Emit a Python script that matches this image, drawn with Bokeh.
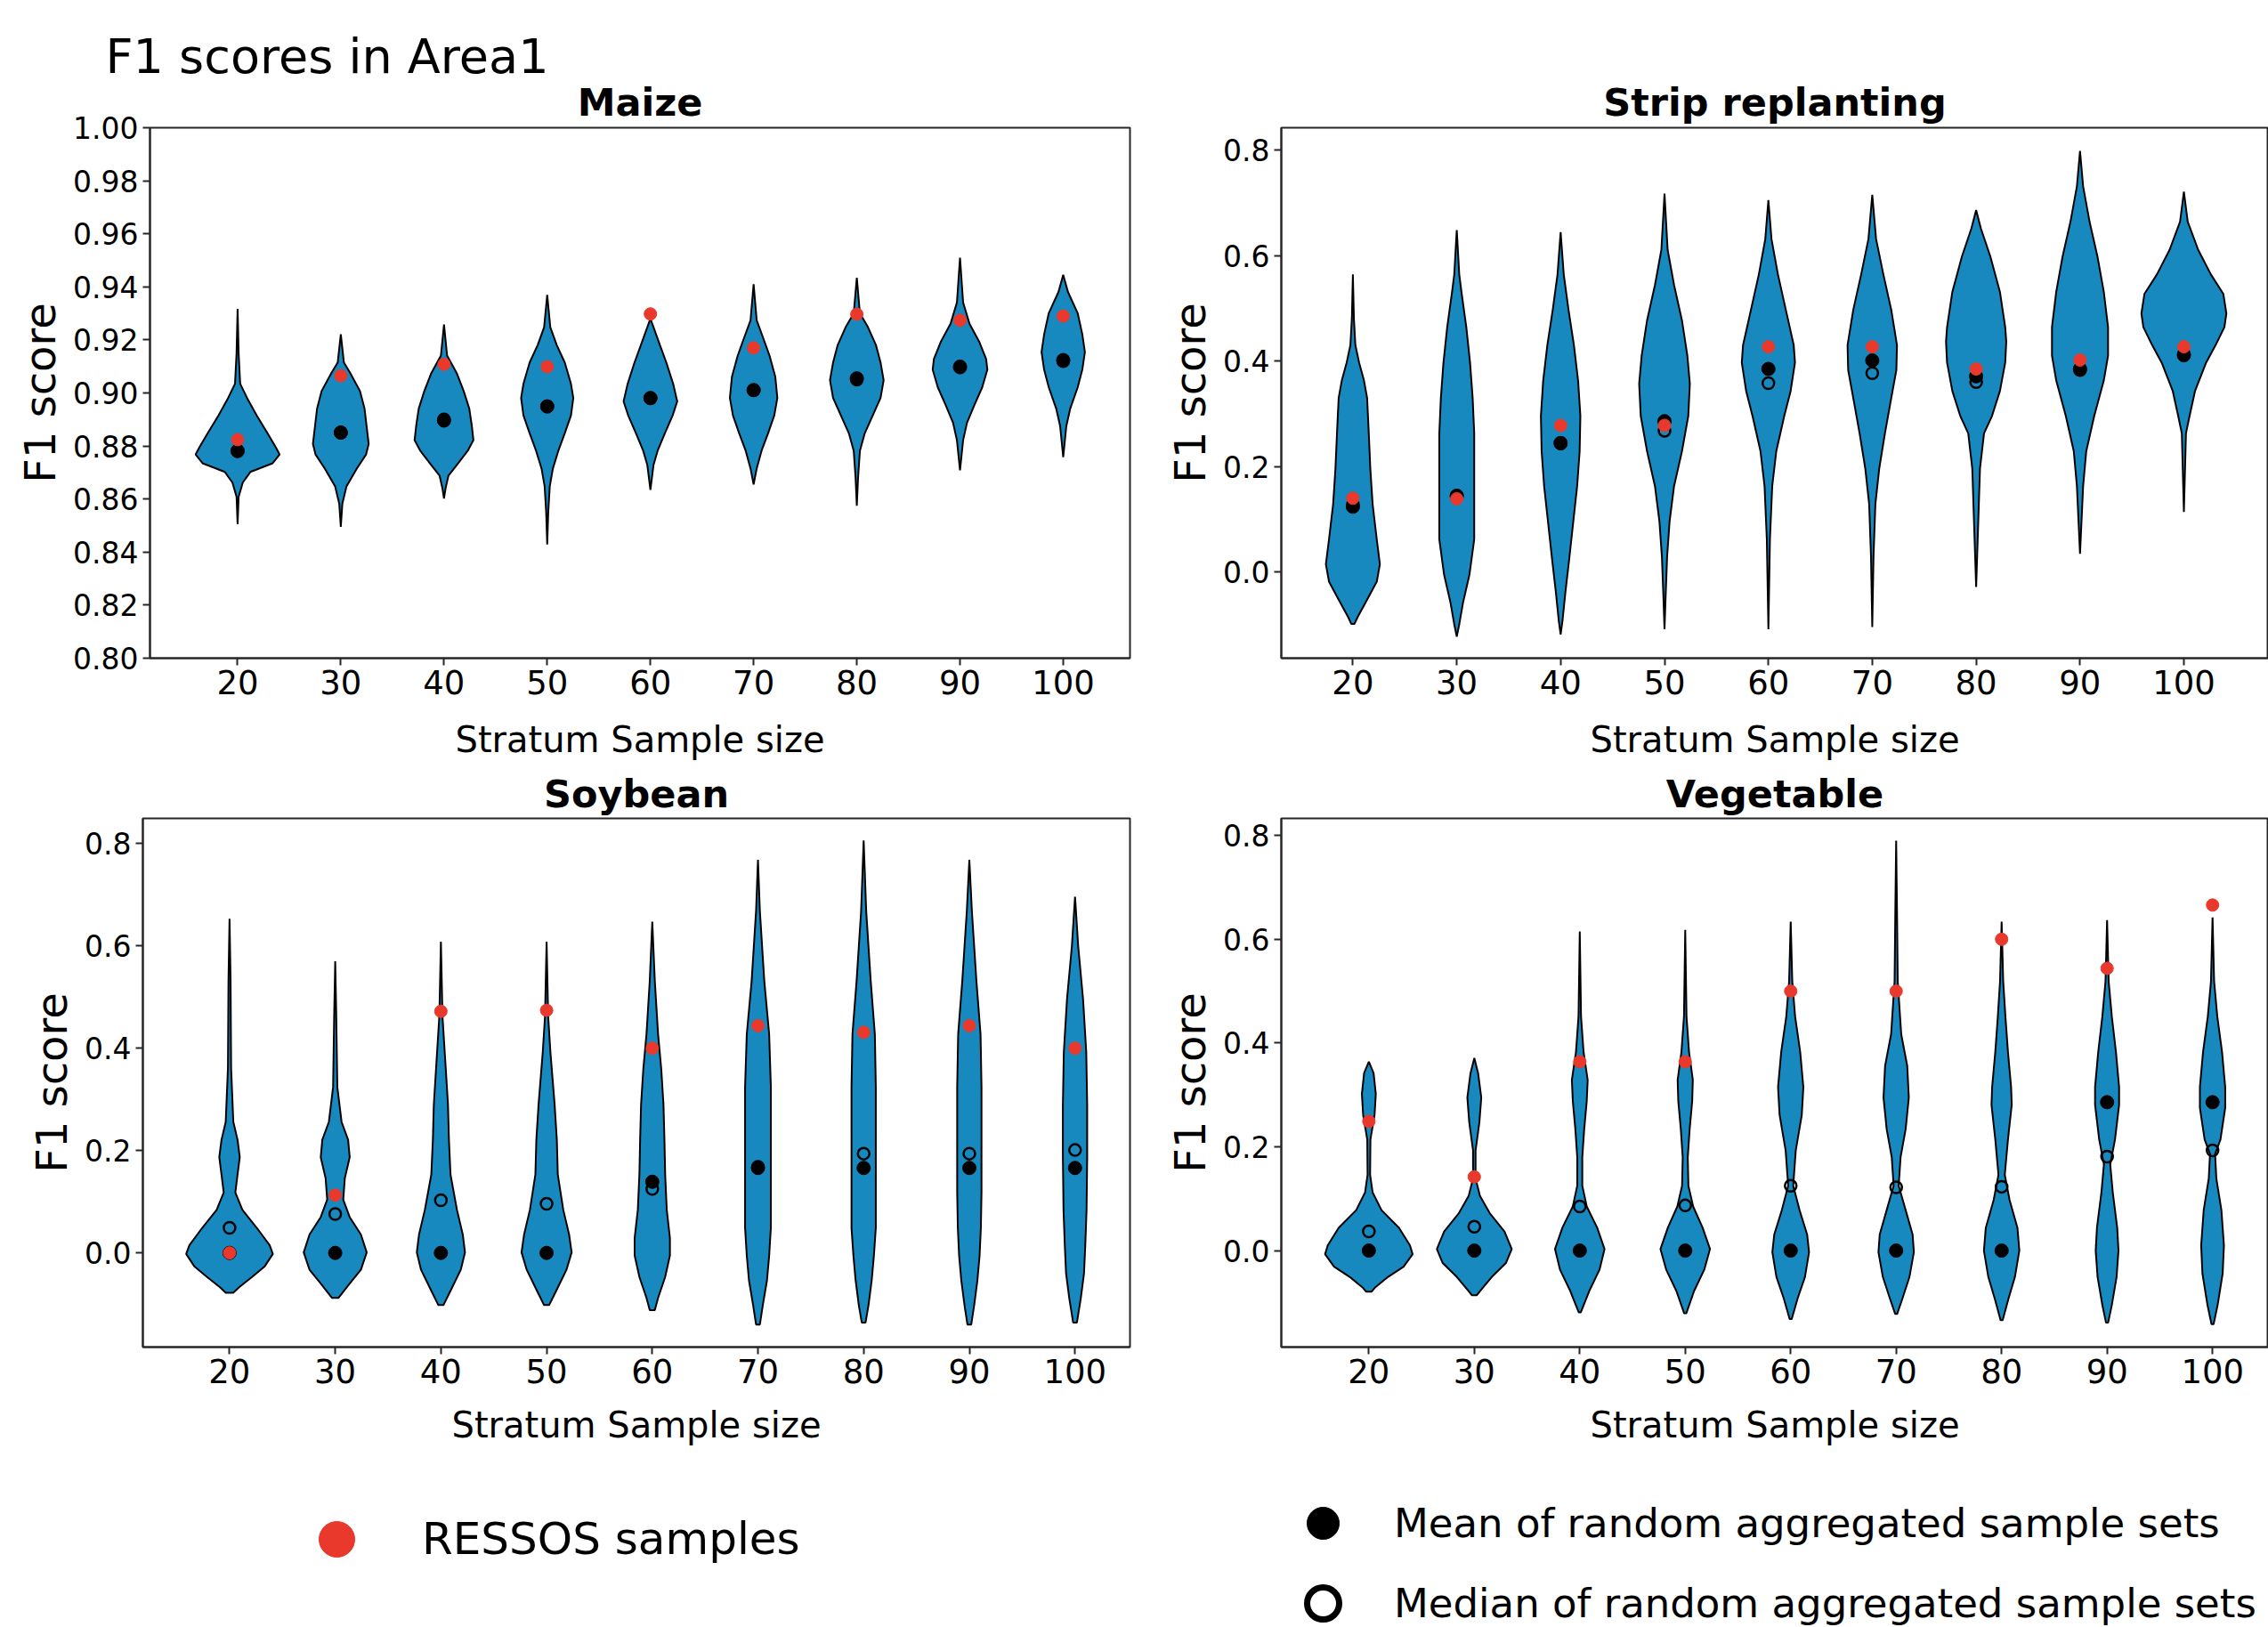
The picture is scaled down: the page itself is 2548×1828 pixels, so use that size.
from bokeh.plotting import figure
from bokeh.models import (Range1d, FixedTicker, NumeralTickFormatter, Title,
                          Legend, LegendItem)
from bokeh.layouts import row, column
from bokeh.embed import file_html
from bokeh.resources import INLINE

# ---------------- data ----------------
SIZES = [20, 30, 40, 50, 60, 70, 80, 90, 100]
X_TICKS = [20, 30, 40, 50, 60, 70, 80, 90, 100]
MAIZE_Y_TICKS = [0.80, 0.82, 0.84, 0.86, 0.88, 0.90, 0.92, 0.94, 0.96, 0.98, 1.00]
OTHER_Y_TICKS = [0.0, 0.2, 0.4, 0.6, 0.8]

MAIZE_MEAN = [0.8782, 0.8851, 0.8896, 0.8949, 0.8981, 0.9011, 0.9055, 0.9097, 0.9124]
MAIZE_MEDIAN = [0.878, 0.885, 0.890, 0.895, 0.898, 0.901, 0.905, 0.910, 0.912]
MAIZE_RESSOS = [0.8824, 0.9065, 0.9108, 0.9099, 0.9298, 0.9170, 0.9297, 0.9274, 0.9290]
MAIZE_VIOLIN_Y = [
    [0.8505, 0.8608, 0.8662, 0.8702, 0.8735, 0.8768, 0.8795, 0.8848, 0.8915, 0.8981, 0.9035, 0.9150, 0.9317],
    [0.8495, 0.8582, 0.8648, 0.8715, 0.8768, 0.8808, 0.8875, 0.8941, 0.9008, 0.9075, 0.9115, 0.9221],
    [0.8602, 0.8640, 0.8688, 0.8728, 0.8782, 0.8822, 0.8875, 0.8941, 0.9008, 0.9075, 0.9141, 0.9258],
    [0.8429, 0.8550, 0.8648, 0.8715, 0.8782, 0.8848, 0.8915, 0.8981, 0.9035, 0.9115, 0.9181, 0.9248, 0.9370],
    [0.8635, 0.8728, 0.8782, 0.8848, 0.8915, 0.8968, 0.9035, 0.9115, 0.9181, 0.9248, 0.9280],
    [0.8655, 0.8715, 0.8782, 0.8848, 0.8915, 0.8981, 0.9061, 0.9141, 0.9208, 0.9274, 0.9410],
    [0.8575, 0.8680, 0.8782, 0.8848, 0.8915, 0.8981, 0.9048, 0.9115, 0.9181, 0.9248, 0.9300, 0.9434],
    [0.8708, 0.8822, 0.8888, 0.8955, 0.9021, 0.9088, 0.9128, 0.9194, 0.9261, 0.9341, 0.9510],
    [0.8758, 0.8875, 0.8941, 0.9021, 0.9088, 0.9154, 0.9221, 0.9301, 0.9381, 0.9445],
]
MAIZE_VIOLIN_HW = [
    [0, 0.10, 0.50, 1.23, 3.40, 4.07, 3.70, 2.90, 1.85, 0.92, 0.25, 0.10, 0],
    [0, 0.15, 0.55, 1.55, 2.45, 2.70, 2.50, 2.30, 1.85, 0.92, 0.30, 0],
    [0, 0.15, 0.43, 1.23, 2.30, 2.85, 2.70, 2.45, 1.90, 1.23, 0.30, 0],
    [0, 0.10, 0.25, 0.55, 1.08, 1.70, 2.30, 2.53, 2.30, 1.70, 0.92, 0.30, 0],
    [0, 0.30, 0.70, 1.40, 2.15, 2.60, 2.20, 1.54, 0.92, 0.30, 0],
    [0, 0.30, 0.77, 1.40, 2.00, 2.30, 2.10, 1.54, 0.92, 0.30, 0],
    [0, 0.12, 0.30, 0.77, 1.54, 2.30, 2.60, 2.30, 1.85, 1.08, 0.30, 0],
    [0, 0.30, 0.68, 1.40, 2.15, 2.65, 2.53, 1.85, 0.92, 0.30, 0],
    [0, 0.30, 0.68, 1.40, 1.85, 2.10, 1.85, 1.40, 0.46, 0],
]

STRIP_MEAN = [0.124, 0.144, 0.244, 0.286, 0.385, 0.401, 0.371, 0.385, 0.411]
STRIP_MEDIAN = [0.128, 0.145, 0.245, 0.268, 0.358, 0.377, 0.360, 0.383, 0.413]
STRIP_RESSOS = [0.140, 0.139, 0.278, 0.278, 0.427, 0.427, 0.385, 0.402, 0.427]
STRIP_VIOLIN_Y = [
    [-0.098, -0.085, -0.052, -0.018, 0.015, 0.062, 0.129, 0.196, 0.263, 0.330, 0.363, 0.397, 0.430, 0.480, 0.564],
    [-0.122, -0.098, -0.058, -0.005, 0.062, 0.129, 0.196, 0.263, 0.330, 0.397, 0.464, 0.530, 0.564, 0.648],
    [-0.118, -0.092, -0.038, 0.029, 0.096, 0.163, 0.229, 0.296, 0.363, 0.430, 0.497, 0.564, 0.644],
    [-0.108, -0.050, 0.029, 0.096, 0.163, 0.229, 0.296, 0.357, 0.410, 0.477, 0.544, 0.611, 0.717],
    [-0.108, 0.062, 0.163, 0.229, 0.296, 0.343, 0.397, 0.430, 0.497, 0.564, 0.631, 0.705],
    [-0.104, 0.029, 0.129, 0.196, 0.263, 0.330, 0.383, 0.430, 0.497, 0.564, 0.631, 0.715],
    [-0.028, 0.062, 0.196, 0.263, 0.296, 0.343, 0.397, 0.437, 0.464, 0.531, 0.598, 0.651, 0.686],
    [0.035, 0.163, 0.229, 0.296, 0.363, 0.410, 0.464, 0.531, 0.598, 0.664, 0.731, 0.798],
    [0.114, 0.263, 0.296, 0.343, 0.397, 0.430, 0.464, 0.490, 0.527, 0.564, 0.611, 0.664, 0.721],
]
STRIP_VIOLIN_HW = [
    [0.15, 0.46, 1.37, 2.30, 2.60, 2.30, 1.90, 1.68, 1.53, 1.37, 1.07, 0.60, 0.24, 0.10, 0],
    [0, 0.25, 0.60, 1.22, 1.68, 1.68, 1.68, 1.68, 1.53, 1.28, 0.92, 0.46, 0.24, 0],
    [0, 0.18, 0.46, 0.85, 1.22, 1.59, 1.83, 1.90, 1.68, 1.28, 0.76, 0.30, 0],
    [0, 0.10, 0.25, 0.49, 0.92, 1.68, 2.29, 2.44, 2.20, 1.68, 0.92, 0.30, 0],
    [0, 0.15, 0.37, 0.76, 1.53, 2.14, 2.56, 2.44, 1.68, 0.92, 0.30, 0],
    [0, 0.12, 0.30, 0.67, 1.22, 1.83, 2.32, 2.38, 1.83, 1.07, 0.37, 0],
    [0, 0.15, 0.37, 0.76, 1.53, 2.29, 2.80, 2.90, 2.80, 2.29, 1.37, 0.46, 0],
    [0, 0.30, 0.60, 1.37, 2.29, 2.70, 2.70, 2.29, 1.68, 0.92, 0.30, 0],
    [0, 0.20, 0.55, 1.07, 2.14, 3.05, 3.90, 4.09, 3.80, 2.60, 1.37, 0.37, 0],
]

SOY_MEAN = [0.0, 0.0, 0.0, 0.0, 0.139, 0.166, 0.166, 0.166, 0.166]
SOY_MEDIAN = [0.049, 0.076, 0.103, 0.096, 0.125, 0.168, 0.194, 0.194, 0.201]
SOY_RESSOS = [0.0, 0.113, 0.472, 0.474, 0.400, 0.444, 0.431, 0.444, 0.400]
SOY_VIOLIN_Y = [
    [-0.078, -0.067, -0.047, -0.026, -0.002, 0.015, 0.049, 0.084, 0.118, 0.153, 0.187, 0.221, 0.256, 0.361, 0.531, 0.653],
    [-0.088, -0.060, -0.033, 0.001, 0.036, 0.070, 0.104, 0.146, 0.187, 0.221, 0.256, 0.324, 0.462, 0.570],
    [-0.102, -0.074, -0.033, 0.001, 0.036, 0.084, 0.153, 0.221, 0.290, 0.393, 0.462, 0.608],
    [-0.102, -0.074, -0.033, 0.001, 0.036, 0.084, 0.153, 0.221, 0.290, 0.393, 0.462, 0.608],
    [-0.112, -0.088, -0.047, -0.005, 0.029, 0.084, 0.153, 0.221, 0.290, 0.359, 0.427, 0.531, 0.647],
    [-0.140, -0.102, -0.054, -0.005, 0.049, 0.118, 0.221, 0.324, 0.427, 0.531, 0.668, 0.768],
    [-0.136, -0.102, -0.054, -0.005, 0.049, 0.118, 0.221, 0.324, 0.427, 0.531, 0.668, 0.806],
    [-0.140, -0.102, -0.054, -0.005, 0.049, 0.118, 0.221, 0.324, 0.427, 0.531, 0.668, 0.768],
    [-0.136, -0.088, -0.040, 0.015, 0.084, 0.187, 0.290, 0.393, 0.496, 0.599, 0.696],
]
SOY_VIOLIN_HW = [
    [0.35, 0.91, 2.13, 3.34, 4.10, 3.80, 2.58, 1.22, 0.55, 0.76, 0.97, 0.76, 0.36, 0.15, 0.10, 0],
    [0.30, 1.37, 2.43, 2.98, 2.43, 1.37, 0.76, 0.91, 1.37, 1.22, 0.60, 0.20, 0.10, 0],
    [0.24, 0.91, 1.88, 2.28, 2.07, 1.52, 0.91, 0.76, 0.67, 0.36, 0.15, 0],
    [0.24, 0.91, 1.88, 2.37, 2.13, 1.58, 1.06, 0.97, 0.76, 0.36, 0.15, 0],
    [0.24, 0.55, 1.22, 1.67, 1.67, 1.37, 1.22, 1.15, 1.06, 0.85, 0.55, 0.24, 0],
    [0.18, 0.46, 0.85, 1.06, 1.22, 1.22, 1.22, 1.22, 1.06, 0.60, 0.18, 0],
    [0.18, 0.46, 0.76, 0.97, 1.15, 1.15, 1.15, 1.15, 1.06, 0.67, 0.24, 0],
    [0.18, 0.46, 0.76, 0.97, 1.09, 1.15, 1.15, 1.15, 1.06, 0.67, 0.24, 0],
    [0.18, 0.55, 0.85, 0.97, 1.09, 1.15, 1.15, 1.06, 0.76, 0.30, 0],
]

VEG_MEAN = [0.0, 0.0, 0.0, 0.0, 0.0, 0.0, 0.0, 0.286, 0.286]
VEG_MEDIAN = [0.037, 0.046, 0.085, 0.087, 0.125, 0.122, 0.123, 0.181, 0.193]
VEG_RESSOS = [0.249, 0.142, 0.364, 0.364, 0.500, 0.500, 0.600, 0.544, 0.666]
VEG_VIOLIN_Y = [
    [-0.079, -0.071, -0.051, -0.031, -0.007, 0.010, 0.044, 0.078, 0.112, 0.146, 0.214, 0.261, 0.302, 0.342, 0.364],
    [-0.086, -0.078, -0.051, -0.024, 0.003, 0.037, 0.071, 0.105, 0.139, 0.193, 0.247, 0.295, 0.342, 0.371],
    [-0.119, -0.078, -0.037, 0.003, 0.044, 0.085, 0.125, 0.180, 0.234, 0.288, 0.329, 0.383, 0.451, 0.615],
    [-0.121, -0.078, -0.037, 0.003, 0.044, 0.085, 0.125, 0.180, 0.234, 0.288, 0.329, 0.383, 0.451, 0.618],
    [-0.132, -0.092, -0.051, -0.003, 0.031, 0.078, 0.125, 0.193, 0.261, 0.315, 0.383, 0.451, 0.519, 0.634],
    [-0.122, -0.092, -0.051, -0.003, 0.031, 0.078, 0.125, 0.180, 0.234, 0.295, 0.356, 0.417, 0.519, 0.654, 0.790],
    [-0.134, -0.092, -0.051, 0.000, 0.044, 0.098, 0.146, 0.214, 0.281, 0.315, 0.383, 0.451, 0.519, 0.634],
    [-0.139, -0.105, -0.051, 0.000, 0.044, 0.112, 0.166, 0.214, 0.281, 0.315, 0.383, 0.451, 0.519, 0.637],
    [-0.142, -0.105, -0.044, 0.010, 0.078, 0.139, 0.186, 0.214, 0.275, 0.315, 0.383, 0.451, 0.519, 0.642],
]
VEG_VIOLIN_HW = [
    [0.27, 0.60, 1.80, 3.30, 4.15, 3.90, 2.86, 1.20, 0.36, 0.12, 0.15, 0.54, 0.66, 0.45, 0],
    [0.24, 0.54, 1.65, 3.00, 3.55, 2.86, 1.50, 0.54, 0.12, 0.12, 0.48, 0.66, 0.36, 0],
    [0.10, 0.90, 1.87, 2.35, 1.65, 0.66, 0.24, 0.24, 0.42, 0.66, 0.75, 0.36, 0.12, 0],
    [0.10, 0.84, 1.80, 2.35, 1.65, 0.75, 0.30, 0.24, 0.42, 0.66, 0.72, 0.36, 0.12, 0],
    [0.10, 0.66, 1.35, 1.74, 1.56, 0.84, 0.24, 0.48, 1.05, 1.20, 0.90, 0.42, 0.15, 0],
    [0.10, 0.60, 1.26, 1.68, 1.56, 0.90, 0.24, 0.42, 0.90, 1.20, 1.05, 0.48, 0.15, 0.08, 0],
    [0.10, 0.66, 1.26, 1.68, 1.50, 0.75, 0.30, 0.60, 0.96, 0.90, 0.60, 0.36, 0.15, 0],
    [0.10, 0.45, 0.90, 1.08, 0.96, 0.54, 0.30, 0.75, 1.14, 1.14, 0.84, 0.45, 0.15, 0],
    [0.10, 0.48, 0.96, 1.08, 0.84, 0.36, 0.24, 0.75, 1.20, 1.20, 0.90, 0.45, 0.15, 0],
]

LEGEND_LABELS = ["RESSOS samples",
                 "Mean of random aggregated sample sets",
                 "Median of random aggregated sample sets"]

# ---------------- style ----------------
FONT = "DejaVu Sans"
BLUE = "#1789bf"
RED = "#e8392c"
FRAME = "#262626"


def violin_polys(centers, ys, hws):
    xs_all, ys_all = [], []
    for c, yy, hw in zip(centers, ys, hws):
        xs_all.append([c + h for h in hw] + [c - h for h in reversed(hw)])
        ys_all.append(list(yy) + list(reversed(yy)))
    return xs_all, ys_all


def panel(title, vy, vhw, mean, median, ressos, xr, yr, yticks, yfmt,
          w, h, mbl, mbr, mbt, mbb, xlabel_standoff, title_standoff):
    p = figure(width=w, height=h, x_range=Range1d(*xr), y_range=Range1d(*yr),
               output_backend="svg", toolbar_location=None, title=None,
               min_border_left=mbl, min_border_right=mbr,
               min_border_top=mbt, min_border_bottom=mbb)
    p.grid.visible = False
    p.outline_line_color = FRAME
    p.outline_line_width = 2
    p.background_fill_color = "white"
    p.border_fill_color = "white"

    xs, ys = violin_polys(SIZES, vy, vhw)
    p.patches(xs, ys, fill_color=BLUE, line_color="black", line_width=2)
    p.scatter(SIZES, mean, size=15, marker="circle", fill_color="black", line_color="black")
    p.scatter(SIZES, median, size=13, marker="circle", fill_color=None,
              line_color="black", line_width=2.5)
    p.scatter(SIZES, ressos, size=14, marker="circle", fill_color=RED, line_color=RED)

    for ax in (p.xaxis[0], p.yaxis[0]):
        ax.axis_line_color = FRAME
        ax.axis_line_width = 2
        ax.major_tick_out = 8
        ax.major_tick_in = 0
        ax.major_tick_line_width = 2
        ax.major_tick_line_color = FRAME
        ax.minor_tick_line_color = None
        ax.major_label_standoff = 5
        ax.major_label_text_font = FONT
        ax.major_label_text_color = "black"
        ax.axis_label_text_font = FONT
        ax.axis_label_text_font_style = "normal"
        ax.axis_label_text_color = "black"

    xa = p.xaxis[0]
    xa.ticker = FixedTicker(ticks=X_TICKS)
    xa.major_label_text_font_size = "37px"
    xa.axis_label = "Stratum Sample size"
    xa.axis_label_text_font_size = "40px"
    xa.axis_label_standoff = xlabel_standoff

    ya = p.yaxis[0]
    ya.ticker = FixedTicker(ticks=yticks)
    ya.formatter = NumeralTickFormatter(format=yfmt)
    ya.major_label_text_font_size = "33px"
    ya.axis_label = "F1 score"
    ya.axis_label_text_font_size = "48px"
    ya.axis_label_standoff = 6

    p.add_layout(Title(text=title, align="center", text_font=FONT,
                       text_font_size="43px", text_font_style="bold",
                       text_color="black", standoff=title_standoff), "above")
    return p


maize = panel("Maize", MAIZE_VIOLIN_Y, MAIZE_VIOLIN_HW, MAIZE_MEAN, MAIZE_MEDIAN, MAIZE_RESSOS,
              (11.51, 106.47), (0.80, 1.00), MAIZE_Y_TICKS, "0.00",
              1298, 860, 168, 29, 143, 121, 25, 8)
maize.add_layout(Title(text="F1 scores in Area1", align="left", offset=-50, text_font=FONT,
                       text_font_size="54px", text_font_style="normal",
                       text_color="black", standoff=-23), "above")

strip = panel("Strip replanting", STRIP_VIOLIN_Y, STRIP_VIOLIN_HW, STRIP_MEAN, STRIP_MEDIAN, STRIP_RESSOS,
              (13.11, 108.14), (-0.163, 0.842), OTHER_Y_TICKS, "0.0",
              1250, 860, 141, 0, 143, 121, 25, 8)

soy = panel("Soybean", SOY_VIOLIN_Y, SOY_VIOLIN_HW, SOY_MEAN, SOY_MEDIAN, SOY_RESSOS,
            (11.8, 105.2), (-0.184, 0.849), OTHER_Y_TICKS, "0.0",
            1298, 770, 160, 29, 59, 117, 21, 5)

veg = panel("Vegetable", VEG_VIOLIN_Y, VEG_VIOLIN_HW, VEG_MEAN, VEG_MEDIAN, VEG_RESSOS,
            (11.7, 105.3), (-0.186, 0.833), OTHER_Y_TICKS, "0.0",
            1250, 770, 141, 0, 59, 117, 21, 5)

# ---------------- legend strip ----------------
lg = figure(width=2548, height=198, x_range=(0, 1), y_range=(0, 1),
            x_axis_type=None, y_axis_type=None, output_backend="svg",
            toolbar_location=None, min_border=0, outline_line_color=None)
lg.grid.visible = False
# placeholder glyphs (outside the visible range) that only feed the legend swatches
r_red = lg.scatter(x=[-5], y=[-5], size=40, marker="circle", fill_color=RED, line_color=RED)
r_mean = lg.scatter(x=[-5], y=[-5], size=38, marker="circle", fill_color="black", line_color="black")
r_median = lg.scatter(x=[-5], y=[-5], size=38, marker="circle", fill_color=None,
                      line_color="black", line_width=7)

leg_common = dict(padding=0, spacing=0, margin=0, border_line_color=None,
                  background_fill_alpha=0, label_text_font=FONT,
                  label_text_color="black")
leg1 = Legend(items=[LegendItem(label=LEGEND_LABELS[0], renderers=[r_red])],
              location=(328, 49), glyph_width=100, glyph_height=100,
              label_standoff=46, label_text_font_size="50px", **leg_common)
leg2 = Legend(items=[LegendItem(label=LEGEND_LABELS[1], renderers=[r_mean]),
                     LegendItem(label=LEGEND_LABELS[2], renderers=[r_median])],
              location=(1436, -18), glyph_width=100, glyph_height=90,
              label_standoff=30, label_text_font_size="45px", **leg_common)
lg.add_layout(leg1, "center")
lg.add_layout(leg2, "center")

layout = column(row(maize, strip), row(soy, veg), lg)

with open("out.html", "w") as f:
    f.write(file_html(layout, INLINE))
